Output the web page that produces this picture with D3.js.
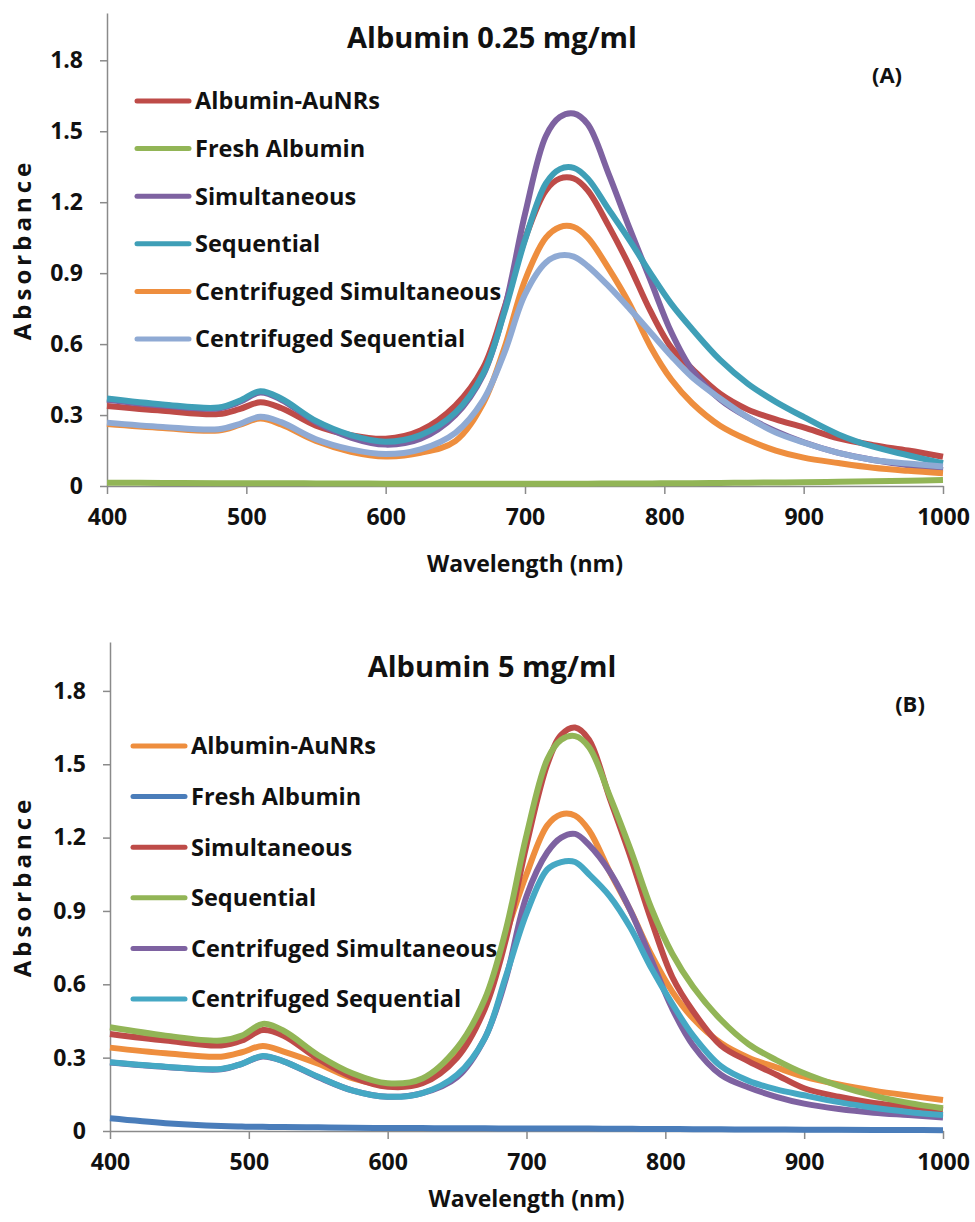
<!DOCTYPE html>
<html>
<head>
<meta charset="utf-8">
<script src="https://cdn.jsdelivr.net/npm/d3@7"></script>
<style>
  body { margin: 0; background: #fff; }
  text { font-family: "Open Sans", Lato, sans-serif; font-weight: 700; fill: #111; }
  .axis path, .axis line { stroke: #8a8a8a; stroke-width: 1.5; }
</style>
</head>
<body>
<div id="chart"></div>
<script>
// wavelength grid (nm) shared by every spectrum
var wavelengths = [400, 440, 480, 495, 510, 525, 550, 575, 600, 625, 650, 670, 685, 700, 715, 725,
  735, 745, 760, 775, 790, 805, 820, 840, 860, 880, 900, 925, 950, 975, 1000];

var xTicks = [400, 500, 600, 700, 800, 900, 1000];
var yTicks = [0, 0.3, 0.6, 0.9, 1.2, 1.5, 1.8];

var seriesNames = ["Albumin-AuNRs", "Fresh Albumin", "Simultaneous", "Sequential",
  "Centrifuged Simultaneous", "Centrifuged Sequential"];

// panel A : albumin 0.25 mg/ml
var a_aunrs = [0.338, 0.318, 0.304, 0.325, 0.354, 0.33, 0.255, 0.215, 0.20, 0.235, 0.34, 0.50, 0.75, 1.045, 1.25, 1.30,
  1.30, 1.25, 1.10, 0.93, 0.74, 0.585, 0.495, 0.39, 0.323, 0.282, 0.248, 0.202, 0.173, 0.15, 0.124];
var a_fresh = [0.014, 0.013, 0.012, 0.012, 0.012, 0.012, 0.011, 0.011, 0.010, 0.010, 0.010, 0.010, 0.010, 0.010, 0.010, 0.010,
  0.010, 0.010, 0.011, 0.011, 0.011, 0.012, 0.012, 0.013, 0.014, 0.015, 0.016, 0.018, 0.020, 0.022, 0.025];
var a_simult = [0.365, 0.34, 0.328, 0.355, 0.395, 0.365, 0.27, 0.205, 0.175, 0.20, 0.30, 0.47, 0.74, 1.15, 1.48, 1.56,
  1.575, 1.53, 1.32, 1.09, 0.87, 0.65, 0.49, 0.366, 0.29, 0.232, 0.185, 0.14, 0.11, 0.088, 0.068];
var a_seq = [0.37, 0.345, 0.332, 0.36, 0.401, 0.37, 0.275, 0.215, 0.187, 0.215, 0.31, 0.475, 0.73, 1.04, 1.28, 1.34,
  1.345, 1.30, 1.17, 1.04, 0.90, 0.77, 0.663, 0.533, 0.432, 0.356, 0.292, 0.218, 0.166, 0.13, 0.096];
var a_cSimult = [0.262, 0.245, 0.235, 0.258, 0.285, 0.26, 0.19, 0.145, 0.125, 0.14, 0.19, 0.35, 0.58, 0.87, 1.05, 1.095,
  1.095, 1.05, 0.92, 0.77, 0.59, 0.45, 0.35, 0.255, 0.195, 0.15, 0.12, 0.097, 0.077, 0.064, 0.054];
var a_cSeq = [0.268, 0.25, 0.24, 0.262, 0.293, 0.27, 0.198, 0.155, 0.135, 0.155, 0.225, 0.363, 0.56, 0.81, 0.945, 0.975,
  0.97, 0.93, 0.845, 0.75, 0.65, 0.55, 0.46, 0.37, 0.29, 0.226, 0.184, 0.14, 0.11, 0.095, 0.082];

// panel B : albumin 5 mg/ml
var b_aunrs = [0.341, 0.318, 0.304, 0.322, 0.348, 0.325, 0.275, 0.215, 0.188, 0.21, 0.32, 0.52, 0.80, 1.05, 1.25, 1.295,
  1.29, 1.23, 1.06, 0.90, 0.72, 0.57, 0.46, 0.36, 0.30, 0.26, 0.222, 0.19, 0.165, 0.145, 0.127];
var b_fresh = [0.052, 0.032, 0.02, 0.018, 0.017, 0.016, 0.015, 0.013, 0.012, 0.012, 0.011, 0.011, 0.010, 0.010, 0.010, 0.010,
  0.010, 0.010, 0.009, 0.009, 0.008, 0.008, 0.007, 0.007, 0.006, 0.006, 0.005, 0.005, 0.004, 0.004, 0.003];
var b_simult = [0.397, 0.37, 0.35, 0.37, 0.413, 0.39, 0.295, 0.22, 0.181, 0.195, 0.30, 0.50, 0.78, 1.17, 1.50, 1.62,
  1.65, 1.60, 1.36, 1.12, 0.86, 0.63, 0.49, 0.35, 0.285, 0.23, 0.175, 0.14, 0.115, 0.10, 0.086];
var b_seq = [0.424, 0.39, 0.37, 0.39, 0.438, 0.41, 0.31, 0.235, 0.195, 0.215, 0.34, 0.54, 0.82, 1.21, 1.52, 1.60,
  1.615, 1.57, 1.37, 1.15, 0.91, 0.725, 0.59, 0.455, 0.355, 0.29, 0.236, 0.185, 0.145, 0.115, 0.093];
var b_cSimult = [0.28, 0.262, 0.252, 0.275, 0.305, 0.285, 0.22, 0.165, 0.14, 0.155, 0.22, 0.38, 0.62, 0.96, 1.14, 1.20,
  1.215, 1.17, 1.06, 0.90, 0.70, 0.50, 0.35, 0.23, 0.178, 0.14, 0.112, 0.09, 0.075, 0.065, 0.055];
var b_cSeq = [0.281, 0.263, 0.254, 0.275, 0.307, 0.285, 0.222, 0.165, 0.14, 0.155, 0.23, 0.38, 0.63, 0.89, 1.07, 1.10,
  1.10, 1.05, 0.96, 0.83, 0.665, 0.52, 0.39, 0.265, 0.205, 0.17, 0.146, 0.118, 0.095, 0.078, 0.065];

var colorsA = ["#BE4B48", "#92B556", "#7E62A1", "#3F9FB7", "#EE8E3E", "#8FAAD4"];
var colorsB = ["#EE8E3E", "#4A7DBA", "#BE4B48", "#92B556", "#7E62A1", "#45A8C4"];

var svg = d3.select("#chart").append("svg")
  .attr("width", 975)
  .attr("height", 1222);

function drawPanel(cfg) {
  var x = d3.scaleLinear().domain([400, 1000]).range([cfg.left, cfg.right]);
  var y = d3.scaleLinear().domain([0, 2]).range([cfg.bottom, cfg.top]);
  var g = svg.append("g");

  g.append("g")
    .attr("class", "axis")
    .attr("transform", "translate(0," + cfg.bottom + ")")
    .call(d3.axisBottom(x).tickValues(xTicks).tickSize(8).tickSizeOuter(0).tickPadding(15)
      .tickFormat(d3.format("d")))
    .call(function (s) { s.selectAll("text").style("font-size", "23px").attr("fill", "#111"); });

  g.append("g")
    .attr("class", "axis")
    .attr("transform", "translate(" + cfg.left + ",0)")
    .call(d3.axisLeft(y).tickValues(yTicks).tickSize(7).tickSizeOuter(0).tickPadding(17)
      .tickFormat(function (d) { return d === 0 ? "0" : d3.format(".1f")(d); }))
    .call(function (s) { s.selectAll("text").style("font-size", "23px").attr("fill", "#111"); });

  var line = d3.line()
    .x(function (d) { return x(d[0]); })
    .y(function (d) { return y(d[1]); })
    .curve(d3.curveCatmullRom.alpha(0.5));

  cfg.series.forEach(function (vals, i) {
    g.append("path")
      .attr("d", line(wavelengths.map(function (w, k) { return [w, vals[k]]; })))
      .attr("fill", "none")
      .attr("stroke", cfg.colors[i])
      .attr("stroke-width", 6)
      .attr("stroke-linejoin", "round");
  });

  // legend
  var leg = g.append("g");
  seriesNames.forEach(function (name, i) {
    var ly = cfg.legendTop + i * cfg.legendStep;
    leg.append("line")
      .attr("x1", cfg.legendX).attr("x2", cfg.legendX + 52)
      .attr("y1", ly).attr("y2", ly)
      .attr("stroke", cfg.colors[i])
      .attr("stroke-width", 5)
      .attr("stroke-linecap", "round");
    leg.append("text")
      .attr("x", cfg.legendX + 58)
      .attr("y", ly)
      .attr("dy", "0.36em")
      .style("font-size", "23.5px")
      .text(name);
  });

  g.append("text")
    .attr("x", 492).attr("y", cfg.titleY)
    .attr("text-anchor", "middle")
    .style("font-size", "29px")
    .text(cfg.title);

  g.append("text")
    .attr("x", cfg.tagX).attr("y", cfg.tagY)
    .attr("text-anchor", "middle")
    .style("font-size", "22px")
    .text(cfg.tag);

  g.append("text")
    .attr("x", (cfg.left + cfg.right) / 2)
    .attr("y", cfg.xTitleY)
    .attr("text-anchor", "middle")
    .style("font-size", "23px")
    .text("Wavelength (nm)");

  g.append("text")
    .attr("transform", "translate(31," + (cfg.top + cfg.bottom) / 2 + ") rotate(-90)")
    .attr("text-anchor", "middle")
    .style("font-size", "24px")
    .style("letter-spacing", "4px")
    .text("Absorbance");
}

drawPanel({
  left: 107, right: 943, top: 13, bottom: 486,
  series: [a_aunrs, a_fresh, a_simult, a_seq, a_cSimult, a_cSeq],
  colors: colorsA,
  legendX: 137, legendTop: 101, legendStep: 47.6,
  title: "Albumin 0.25 mg/ml", titleY: 48,
  tag: "(A)", tagX: 887, tagY: 83,
  xTitleY: 572
});

drawPanel({
  left: 110, right: 943, top: 642, bottom: 1131,
  series: [b_aunrs, b_fresh, b_simult, b_seq, b_cSimult, b_cSeq],
  colors: colorsB,
  legendX: 133, legendTop: 746, legendStep: 50.6,
  title: "Albumin 5 mg/ml", titleY: 677,
  tag: "(B)", tagX: 910, tagY: 712,
  xTitleY: 1207
});
</script>
</body>
</html>
